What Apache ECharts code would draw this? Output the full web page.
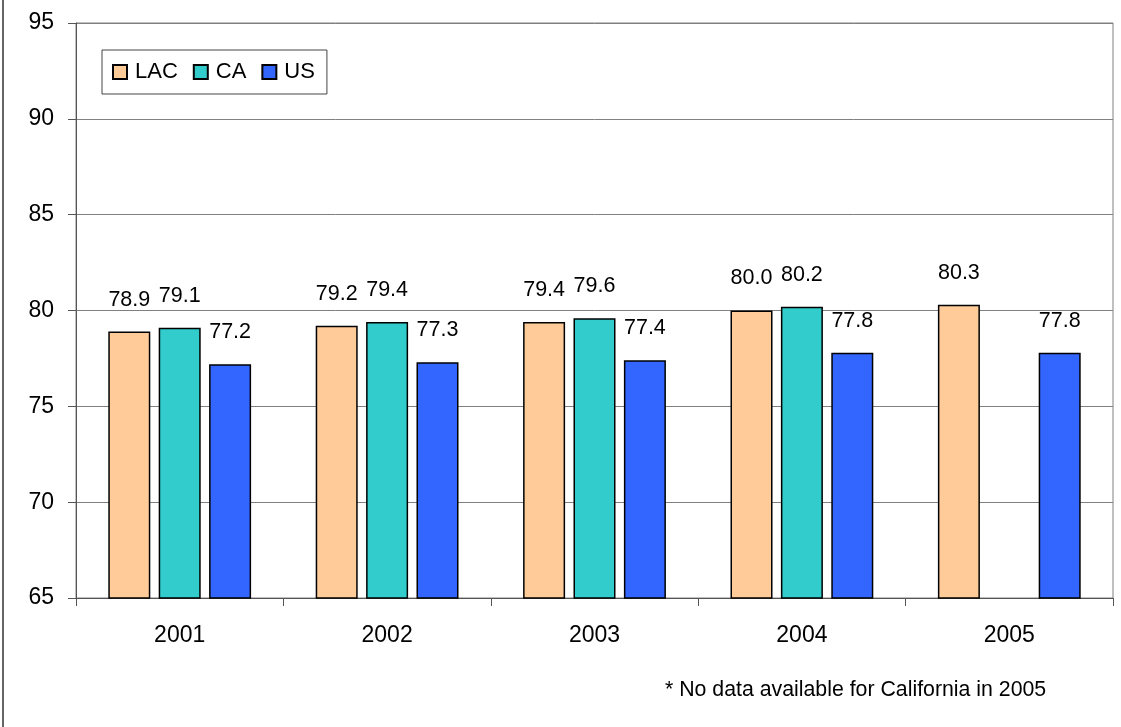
<!DOCTYPE html>
<html>
<head>
<meta charset="utf-8">
<script src="https://cdn.jsdelivr.net/npm/echarts@6/dist/echarts.min.js"></script>
<style>html,body{margin:0;padding:0;background:#fff}#c{width:1121px;height:727px}</style>
</head>
<body>
<div id="c"></div>
<script>
const years = ['2001', '2002', '2003', '2004', '2005'];
const lac = [78.9, 79.2, 79.4, 80.0, 80.3];
const ca = [79.1, 79.4, 79.6, 80.2, null];
const us = [77.2, 77.3, 77.4, 77.8, 77.8];
const seriesNames = ['LAC', 'CA', 'US'];
const colors = ['#FFCC99', '#33CCCC', '#3366FF'];
const footnote = '* No data available for California in 2005';

const font = 'Liberation Sans, Arial, sans-serif';
const chart = echarts.init(document.getElementById('c'), null, {renderer: 'canvas'});
const mk = (name, data, color) => ({
  name, type: 'bar', data, barWidth: 42, barGap: '20%',
  itemStyle: {color, borderColor: '#000', borderWidth: 1.5},
  label: {show: true, position: 'top', distance: 21, color: '#000', fontSize: 21.5, fontFamily: font,
    formatter: p => p.value == null ? '' : Number(p.value).toFixed(1)}
});
chart.setOption({
  animation: false,
  backgroundColor: '#fff',
  grid: {left: 76, right: 8, top: 23, bottom: 129, show: true, borderColor: '#808080', borderWidth: 1},
  legend: {
    left: 102, top: 50,
    padding: [11, 12, 11, 10],
    borderColor: '#444', borderWidth: 1,
    itemWidth: 14, itemHeight: 14, itemGap: 15,
    icon: 'rect',
    textStyle: {fontSize: 22, fontFamily: font, color: '#000', padding: [0, 0, 0, 3]},
    data: seriesNames
  },
  xAxis: {
    type: 'category', data: years,
    axisLine: {lineStyle: {color: '#555', width: 1}},
    axisTick: {show: true, length: 8, lineStyle: {color: '#555'}},
    axisLabel: {fontSize: 23, fontFamily: font, color: '#000', margin: 26}
  },
  yAxis: {
    type: 'value', min: 65, max: 95, interval: 5,
    axisLine: {show: true, lineStyle: {color: '#555', width: 1}},
    axisTick: {show: true, length: 8, lineStyle: {color: '#555'}},
    axisLabel: {fontSize: 23, fontFamily: font, color: '#000', margin: 22},
    splitLine: {lineStyle: {color: '#808080', width: 1}}
  },
  series: [mk(seriesNames[0], lac, colors[0]), mk(seriesNames[1], ca, colors[1]), mk(seriesNames[2], us, colors[2])],
  graphic: [
    {type: 'line', shape: {x1: 3, y1: 0, x2: 3, y2: 727}, style: {stroke: '#333', lineWidth: 1.5}},
    {type: 'text', left: 665, top: 680, style: {text: footnote, fontSize: 21.3, fontFamily: font, fill: '#000'}}
  ]
});
</script>
</body>
</html>
